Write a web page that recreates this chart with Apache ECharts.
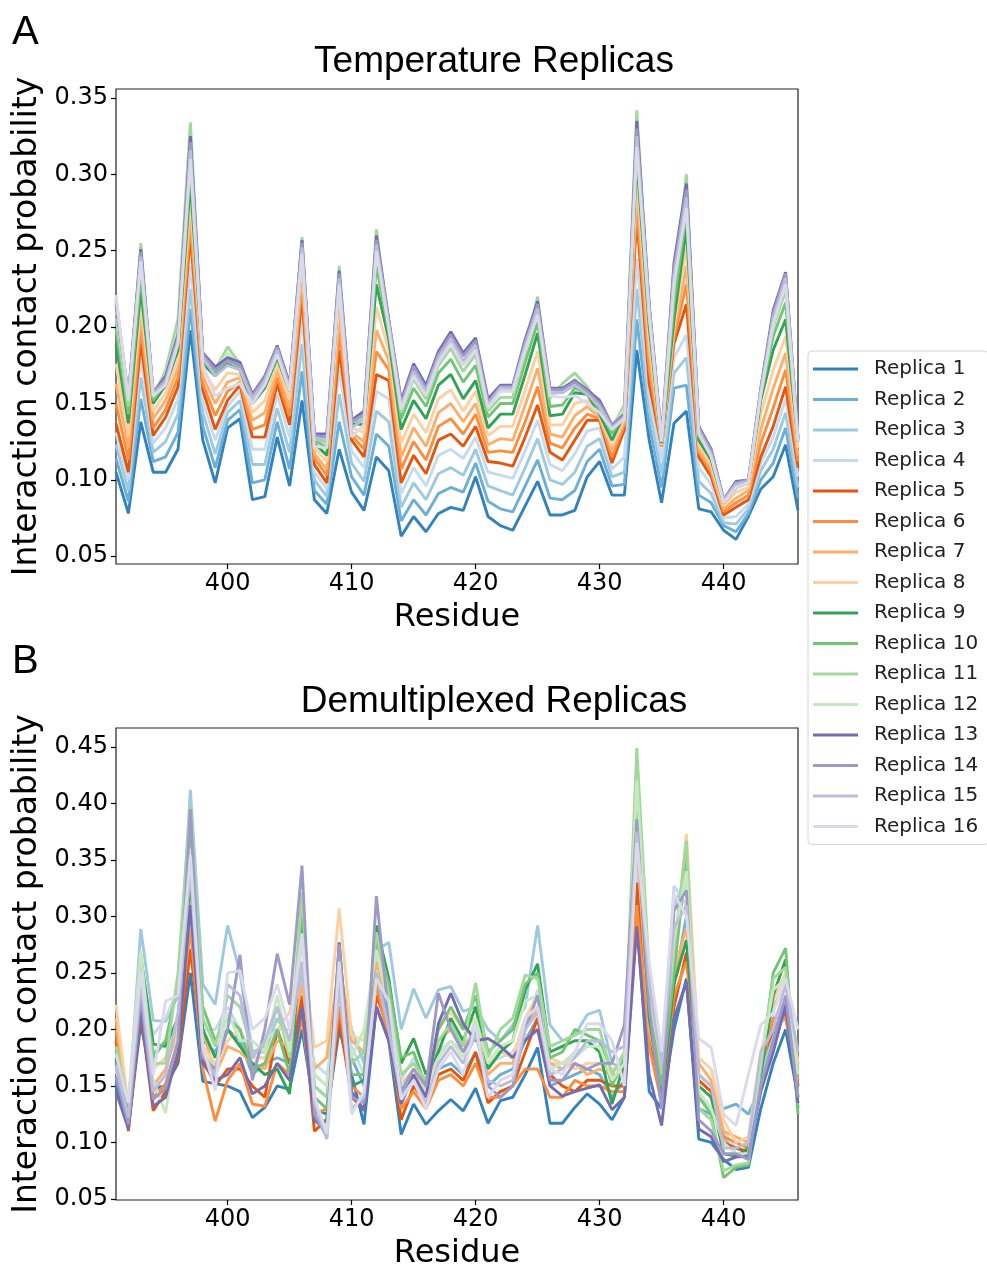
<!DOCTYPE html>
<html><head><meta charset="utf-8">
<script src="https://cdn.jsdelivr.net/npm/echarts@6/dist/echarts.min.js"></script>
<style>html,body{margin:0;padding:0;background:#fff}#c{width:987px;height:1271px}</style>
</head><body><div id="c"></div>
<script>
const residues = [391,392,393,394,395,396,397,398,399,400,401,402,403,404,405,406,407,408,409,410,411,412,413,414,415,416,417,418,419,420,421,422,423,424,425,426,427,428,429,430,431,432,433,434,435,436,437,438,439,440,441,442,443,444,445,446];
const xTicks = [400,410,420,430,440];
const yTicksA = [0.05,0.10,0.15,0.20,0.25,0.30,0.35];
const yTicksB = [0.05,0.10,0.15,0.20,0.25,0.30,0.35,0.40,0.45];
const replicaNames = ['Replica 1','Replica 2','Replica 3','Replica 4','Replica 5','Replica 6','Replica 7','Replica 8','Replica 9','Replica 10','Replica 11','Replica 12','Replica 13','Replica 14','Replica 15','Replica 16'];
const replicaColors = ['#3182bd','#6baed6','#9ecae1','#c6dbef','#e6550d','#fd8d3c','#fdae6b','#fdd0a2','#31a354','#74c476','#a1d99b','#c7e9c0','#756bb1','#9e9ac8','#bcbddc','#dadaeb'];

// Panel A: Temperature Replicas
const T1 = [.105,.078,.138,.105,.105,.120,.198,.126,.098,.134,.140,.087,.089,.128,.096,.152,.087,.078,.120,.092,.080,.115,.106,.063,.076,.066,.078,.082,.080,.102,.076,.070,.067,.083,.099,.077,.077,.080,.102,.112,.090,.090,.185,.126,.085,.137,.145,.081,.079,.067,.061,.076,.094,.102,.123,.080];
const T2 = [.114,.086,.153,.112,.115,.131,.212,.135,.108,.139,.146,.098,.100,.138,.107,.171,.093,.084,.138,.102,.090,.130,.122,.073,.087,.077,.091,.095,.092,.111,.086,.081,.079,.096,.113,.088,.087,.093,.112,.120,.096,.097,.205,.136,.095,.160,.162,.090,.085,.070,.066,.078,.100,.111,.134,.088];
const T3 = [.123,.093,.167,.118,.125,.143,.225,.144,.117,.144,.152,.110,.110,.147,.118,.189,.100,.089,.156,.111,.099,.145,.138,.082,.098,.087,.104,.108,.103,.120,.096,.093,.090,.108,.127,.100,.097,.105,.122,.127,.102,.105,.225,.146,.104,.170,.180,.099,.091,.072,.071,.081,.106,.120,.144,.095];
const T4 = [.131,.100,.180,.124,.134,.153,.240,.152,.126,.148,.158,.120,.120,.156,.128,.206,.105,.094,.172,.119,.108,.158,.153,.091,.108,.096,.116,.120,.114,.128,.105,.103,.101,.119,.139,.110,.106,.117,.132,.134,.107,.115,.245,.155,.113,.180,.195,.108,.097,.075,.076,.084,.111,.128,.153,.102];
const T5 = [.137,.105,.190,.129,.141,.161,.260,.159,.133,.152,.162,.128,.128,.163,.136,.220,.110,.098,.185,.126,.115,.169,.165,.098,.116,.104,.126,.130,.122,.135,.112,.111,.109,.128,.149,.118,.113,.126,.139,.139,.111,.133,.272,.163,.122,.189,.215,.115,.102,.077,.082,.087,.115,.135,.161,.108];
const T6 = [.150,.113,.199,.134,.146,.167,.268,.163,.142,.158,.164,.133,.136,.167,.142,.228,.114,.103,.196,.129,.120,.184,.172,.107,.125,.113,.135,.140,.130,.143,.118,.119,.118,.138,.161,.124,.121,.134,.143,.140,.115,.136,.280,.172,.122,.193,.228,.118,.105,.079,.085,.090,.124,.147,.172,.112];
const T7 = [.163,.121,.208,.140,.152,.173,.277,.168,.150,.164,.167,.139,.144,.172,.147,.235,.117,.107,.208,.131,.125,.198,.178,.115,.134,.122,.144,.150,.138,.150,.123,.127,.126,.149,.173,.130,.128,.142,.148,.141,.119,.138,.290,.182,.123,.197,.240,.120,.107,.081,.088,.093,.133,.160,.183,.116];
const T8 = [.176,.129,.216,.145,.157,.179,.285,.172,.159,.170,.169,.144,.152,.176,.153,.243,.121,.112,.219,.134,.131,.213,.185,.124,.143,.131,.153,.159,.145,.158,.129,.135,.135,.159,.184,.136,.136,.150,.152,.142,.122,.140,.300,.191,.123,.201,.252,.123,.110,.083,.092,.095,.143,.172,.194,.121];
const T9 = [.189,.137,.225,.150,.162,.185,.295,.176,.168,.176,.172,.150,.160,.180,.158,.250,.124,.116,.230,.137,.136,.228,.192,.133,.152,.140,.162,.169,.153,.165,.134,.143,.143,.169,.196,.142,.143,.157,.156,.143,.126,.143,.310,.200,.124,.205,.265,.126,.113,.085,.095,.098,.152,.185,.205,.125];
const T10 = [.199,.143,.234,.152,.164,.190,.305,.178,.170,.180,.174,.152,.163,.183,.160,.252,.126,.121,.232,.138,.139,.240,.197,.140,.160,.148,.170,.179,.164,.175,.141,.150,.150,.177,.203,.148,.149,.160,.157,.146,.130,.144,.318,.205,.125,.215,.275,.129,.116,.086,.097,.099,.155,.194,.216,.126];
const T11 = [.206,.148,.255,.154,.172,.205,.334,.180,.172,.187,.176,.153,.165,.185,.161,.259,.127,.124,.240,.138,.141,.264,.200,.144,.166,.153,.175,.186,.171,.182,.145,.154,.154,.183,.220,.153,.163,.170,.161,.148,.134,.149,.342,.209,.126,.225,.300,.132,.119,.086,.098,.100,.157,.200,.224,.127];
const T12 = [.212,.152,.245,.156,.170,.197,.318,.181,.173,.183,.175,.155,.166,.186,.162,.255,.128,.127,.236,.139,.143,.252,.203,.148,.171,.158,.180,.191,.177,.187,.149,.158,.158,.187,.212,.156,.158,.166,.158,.150,.135,.146,.328,.212,.127,.232,.285,.134,.118,.087,.098,.100,.158,.205,.230,.127];
const T13 = [.215,.155,.251,.157,.168,.195,.325,.183,.174,.180,.177,.156,.168,.188,.163,.257,.130,.130,.237,.139,.145,.260,.205,.152,.176,.162,.184,.197,.183,.193,.153,.162,.162,.192,.217,.160,.160,.165,.159,.152,.136,.143,.335,.215,.128,.242,.294,.135,.120,.087,.099,.100,.160,.211,.236,.128];
const T14 = [.217,.154,.249,.157,.166,.193,.321,.182,.172,.178,.175,.155,.167,.187,.162,.255,.129,.128,.235,.138,.143,.257,.204,.150,.174,.160,.182,.195,.181,.191,.151,.161,.161,.190,.215,.159,.159,.164,.158,.150,.136,.142,.330,.213,.127,.238,.290,.134,.119,.087,.098,.100,.159,.209,.235,.127];
const T15 = [.219,.153,.246,.156,.164,.191,.316,.180,.168,.175,.172,.153,.165,.185,.160,.252,.127,.126,.232,.134,.140,.254,.202,.148,.171,.158,.180,.192,.178,.188,.149,.160,.160,.188,.212,.157,.157,.162,.156,.148,.134,.141,.325,.211,.126,.234,.285,.132,.117,.086,.097,.099,.158,.206,.232,.126];
const T16 = [.221,.152,.243,.155,.162,.189,.310,.175,.155,.160,.163,.150,.162,.182,.158,.248,.122,.121,.228,.128,.136,.250,.199,.146,.168,.155,.177,.189,.175,.185,.147,.158,.158,.185,.208,.155,.154,.155,.150,.144,.133,.140,.318,.208,.125,.228,.278,.130,.115,.085,.095,.098,.156,.202,.228,.125];

// Panel B: Demultiplexed Replicas
const D1 = [.150,.115,.205,.148,.150,.170,.250,.154,.152,.150,.145,.122,.131,.150,.147,.200,.130,.125,.200,.160,.116,.220,.190,.107,.134,.116,.128,.138,.128,.148,.117,.137,.140,.160,.184,.117,.117,.131,.143,.134,.120,.140,.300,.145,.130,.200,.245,.103,.100,.085,.076,.078,.130,.170,.200,.140];
const D2 = [.170,.120,.245,.175,.190,.200,.340,.190,.180,.200,.190,.160,.170,.175,.170,.220,.150,.140,.220,.175,.150,.250,.210,.140,.160,.140,.165,.170,.160,.180,.150,.160,.165,.190,.210,.150,.155,.160,.165,.160,.140,.155,.320,.190,.150,.240,.300,.130,.125,.130,.134,.125,.150,.190,.220,.150];
const D3 = [.180,.128,.289,.208,.207,.230,.412,.240,.222,.292,.250,.180,.180,.210,.190,.250,.160,.150,.250,.200,.170,.270,.277,.200,.236,.210,.235,.238,.216,.220,.200,.190,.204,.220,.292,.204,.190,.195,.213,.217,.170,.165,.340,.220,.160,.310,.333,.140,.130,.105,.090,.085,.160,.200,.210,.160];
const D4 = [.165,.132,.262,.195,.210,.235,.370,.200,.200,.220,.200,.165,.190,.200,.200,.240,.170,.160,.230,.185,.160,.260,.230,.155,.175,.150,.180,.190,.180,.200,.170,.175,.180,.200,.235,.170,.170,.175,.185,.190,.155,.160,.350,.210,.165,.327,.310,.150,.140,.110,.095,.090,.170,.210,.225,.170];
const D5 = [.190,.110,.215,.128,.145,.175,.271,.175,.150,.165,.165,.150,.140,.200,.170,.230,.110,.120,.210,.140,.130,.230,.200,.120,.150,.135,.160,.165,.155,.180,.135,.145,.150,.180,.210,.160,.150,.145,.155,.155,.150,.150,.330,.200,.140,.220,.268,.155,.145,.100,.095,.092,.170,.200,.215,.150];
const D6 = [.200,.118,.225,.140,.152,.190,.290,.165,.119,.155,.170,.134,.132,.170,.160,.210,.125,.130,.220,.150,.140,.240,.190,.130,.145,.130,.155,.160,.150,.170,.140,.140,.150,.165,.165,.140,.140,.155,.150,.150,.145,.145,.310,.185,.135,.230,.260,.160,.150,.105,.100,.095,.165,.210,.210,.155];
const D7 = [.210,.125,.235,.150,.165,.200,.300,.200,.160,.185,.180,.170,.165,.190,.185,.240,.165,.175,.260,.190,.180,.260,.220,.150,.165,.145,.190,.200,.185,.200,.160,.170,.170,.200,.220,.170,.165,.170,.160,.165,.160,.160,.370,.200,.150,.250,.290,.170,.155,.110,.105,.100,.175,.220,.240,.165];
const D8 = [.222,.130,.240,.165,.175,.210,.316,.185,.170,.190,.200,.175,.175,.200,.215,.274,.184,.190,.307,.195,.190,.275,.235,.160,.170,.155,.200,.215,.200,.210,.165,.180,.175,.210,.230,.175,.170,.165,.170,.170,.165,.165,.399,.230,.155,.260,.373,.175,.165,.120,.100,.105,.180,.225,.250,.170];
const D9 = [.175,.124,.265,.187,.185,.210,.330,.200,.175,.200,.185,.170,.160,.165,.143,.300,.120,.119,.270,.150,.155,.292,.245,.170,.192,.160,.180,.210,.190,.220,.165,.180,.190,.235,.258,.180,.185,.190,.190,.180,.134,.170,.392,.210,.140,.240,.279,.150,.140,.090,.088,.095,.160,.230,.262,.130];
const D10 = [.170,.128,.255,.178,.190,.240,.380,.220,.190,.210,.200,.165,.170,.200,.160,.310,.140,.130,.240,.160,.160,.280,.240,.175,.180,.150,.200,.220,.200,.230,.180,.190,.200,.240,.250,.175,.180,.200,.195,.190,.150,.175,.410,.240,.150,.250,.350,.140,.125,.069,.078,.080,.165,.250,.272,.125];
const D11 = [.185,.135,.250,.170,.170,.250,.398,.210,.185,.230,.220,.180,.185,.220,.175,.321,.150,.140,.250,.170,.180,.286,.230,.160,.170,.155,.190,.205,.185,.241,.175,.200,.210,.248,.245,.185,.190,.195,.200,.200,.160,.180,.449,.250,.160,.270,.367,.130,.120,.075,.080,.082,.170,.245,.255,.140];
const D12 = [.163,.138,.270,.155,.126,.200,.360,.180,.165,.215,.190,.190,.180,.230,.180,.280,.160,.150,.230,.175,.200,.270,.220,.150,.160,.145,.175,.190,.175,.210,.170,.185,.190,.225,.230,.165,.170,.180,.185,.185,.155,.170,.420,.230,.170,.280,.340,.145,.130,.100,.090,.090,.175,.235,.245,.160];
const D13 = [.145,.112,.218,.132,.140,.180,.310,.170,.155,.160,.175,.143,.150,.170,.155,.220,.120,.110,.277,.145,.128,.220,.190,.134,.160,.140,.205,.232,.205,.190,.192,.185,.175,.190,.200,.150,.141,.145,.148,.151,.129,.140,.291,.160,.115,.210,.242,.112,.105,.083,.087,.088,.145,.180,.222,.135];
const D14 = [.158,.116,.230,.138,.148,.190,.395,.175,.165,.200,.266,.155,.200,.267,.222,.345,.125,.105,.275,.140,.135,.318,.210,.145,.165,.150,.232,.200,.180,.200,.150,.140,.150,.200,.230,.155,.155,.170,.165,.170,.170,.204,.386,.220,.130,.305,.323,.120,.110,.090,.090,.085,.150,.190,.230,.140];
const D15 = [.168,.122,.240,.145,.160,.215,.340,.180,.158,.240,.230,.175,.190,.220,.190,.260,.135,.103,.240,.130,.140,.250,.200,.140,.155,.135,.170,.185,.170,.195,.155,.150,.155,.200,.215,.160,.165,.175,.190,.190,.180,.185,.375,.240,.170,.290,.310,.160,.150,.095,.095,.100,.180,.200,.240,.180];
const D16 = [.178,.135,.252,.160,.225,.230,.354,.185,.146,.250,.252,.200,.210,.240,.200,.285,.140,.108,.260,.125,.145,.245,.225,.138,.155,.130,.165,.180,.160,.205,.140,.155,.160,.210,.220,.165,.160,.180,.205,.205,.190,.150,.365,.260,.180,.320,.300,.192,.184,.125,.115,.160,.204,.215,.245,.200];

const tempSeries = [T1,T2,T3,T4,T5,T6,T7,T8,T9,T10,T11,T12,T13,T14,T15,T16];
const demuxSeries = [D1,D2,D3,D4,D5,D6,D7,D8,D9,D10,D11,D12,D13,D14,D15,D16];

const FONT = 'DejaVu Sans';
function makeX(gridIndex) {
  return {
    type: 'value', gridIndex: gridIndex, min: 391, max: 446,
    axisLine: {show: false},
    splitLine: {show: false},
    axisTick: {show: true, inside: false, length: 5, customValues: xTicks, lineStyle: {color: '#000', width: 1.2}},
    axisLabel: {customValues: xTicks, fontSize: 24, fontFamily: FONT, color: '#000', margin: 8},
    name: 'Residue', nameLocation: 'middle', nameGap: 38,
    nameTextStyle: {fontSize: 32, fontFamily: FONT, color: '#000'}
  };
}
function makeY(gridIndex, min, max, ticks) {
  return {
    type: 'value', gridIndex: gridIndex, min: min, max: max,
    axisLine: {show: false},
    splitLine: {show: false},
    axisTick: {show: true, inside: false, length: 5, customValues: ticks, lineStyle: {color: '#000', width: 1.2}},
    axisLabel: {customValues: ticks, fontSize: 24, fontFamily: FONT, color: '#000', margin: 8,
      formatter: function (v) { return v.toFixed(2); }},
    name: 'Interaction contact probability', nameLocation: 'middle', nameGap: 72,
    nameTextStyle: {fontSize: 33, fontFamily: FONT, color: '#000'}
  };
}

const series = [];
tempSeries.forEach(function (vals, i) {
  series.push({
    type: 'line', name: replicaNames[i], xAxisIndex: 0, yAxisIndex: 0,
    data: residues.map(function (r, j) { return [r, vals[j]]; }),
    symbol: 'none', lineStyle: {width: 2.9, color: replicaColors[i]},
    itemStyle: {color: replicaColors[i]}
  });
});
demuxSeries.forEach(function (vals, i) {
  series.push({
    type: 'line', name: replicaNames[i], xAxisIndex: 1, yAxisIndex: 1,
    data: residues.map(function (r, j) { return [r, vals[j]]; }),
    symbol: 'none', lineStyle: {width: 2.9, color: replicaColors[i]},
    itemStyle: {color: replicaColors[i]}
  });
});

const chart = echarts.init(document.getElementById('c'), null, {renderer: 'canvas'});
chart.setOption({
  animation: false,
  backgroundColor: '#fff',
  color: replicaColors,
  grid: [
    {left: 116, top: 89, width: 682, height: 475, show: true, borderColor: '#222', borderWidth: 1.2, backgroundColor: 'transparent'},
    {left: 116, top: 728, width: 682, height: 475, show: true, borderColor: '#222', borderWidth: 1.2, backgroundColor: 'transparent'}
  ],
  xAxis: [makeX(0), makeX(1)],
  yAxis: [makeY(0, 0.0449, 0.3559, yTicksA), makeY(1, 0.0491, 0.4667, yTicksB)],
  legend: {
    orient: 'vertical', left: 808, top: 351,
    padding: [8, 10, 8, 5], itemGap: 10.5, itemWidth: 45, itemHeight: 3, icon: 'rect',
    borderColor: '#d5d5d5', borderWidth: 1, borderRadius: 4, backgroundColor: '#fff',
    textStyle: {fontSize: 20, fontFamily: FONT, color: '#222', lineHeight: 20, padding: [0, 0, 0, 11]},
    data: replicaNames
  },
  graphic: [
    {type: 'text', left: 12, top: 13, style: {text: 'A', fontSize: 40, fontFamily: 'Liberation Sans', fill: '#000'}},
    {type: 'text', left: 12, top: 642, style: {text: 'B', fontSize: 40, fontFamily: 'Liberation Sans', fill: '#000'}},
    {type: 'text', x: 494, y: 62, style: {text: 'Temperature Replicas', fontSize: 37, fontFamily: 'Liberation Sans', fill: '#000', align: 'center', verticalAlign: 'middle'}},
    {type: 'text', x: 494, y: 702, style: {text: 'Demultiplexed Replicas', fontSize: 37, fontFamily: 'Liberation Sans', fill: '#000', align: 'center', verticalAlign: 'middle'}}
  ],
  series: series
});
</script>
</body></html>
